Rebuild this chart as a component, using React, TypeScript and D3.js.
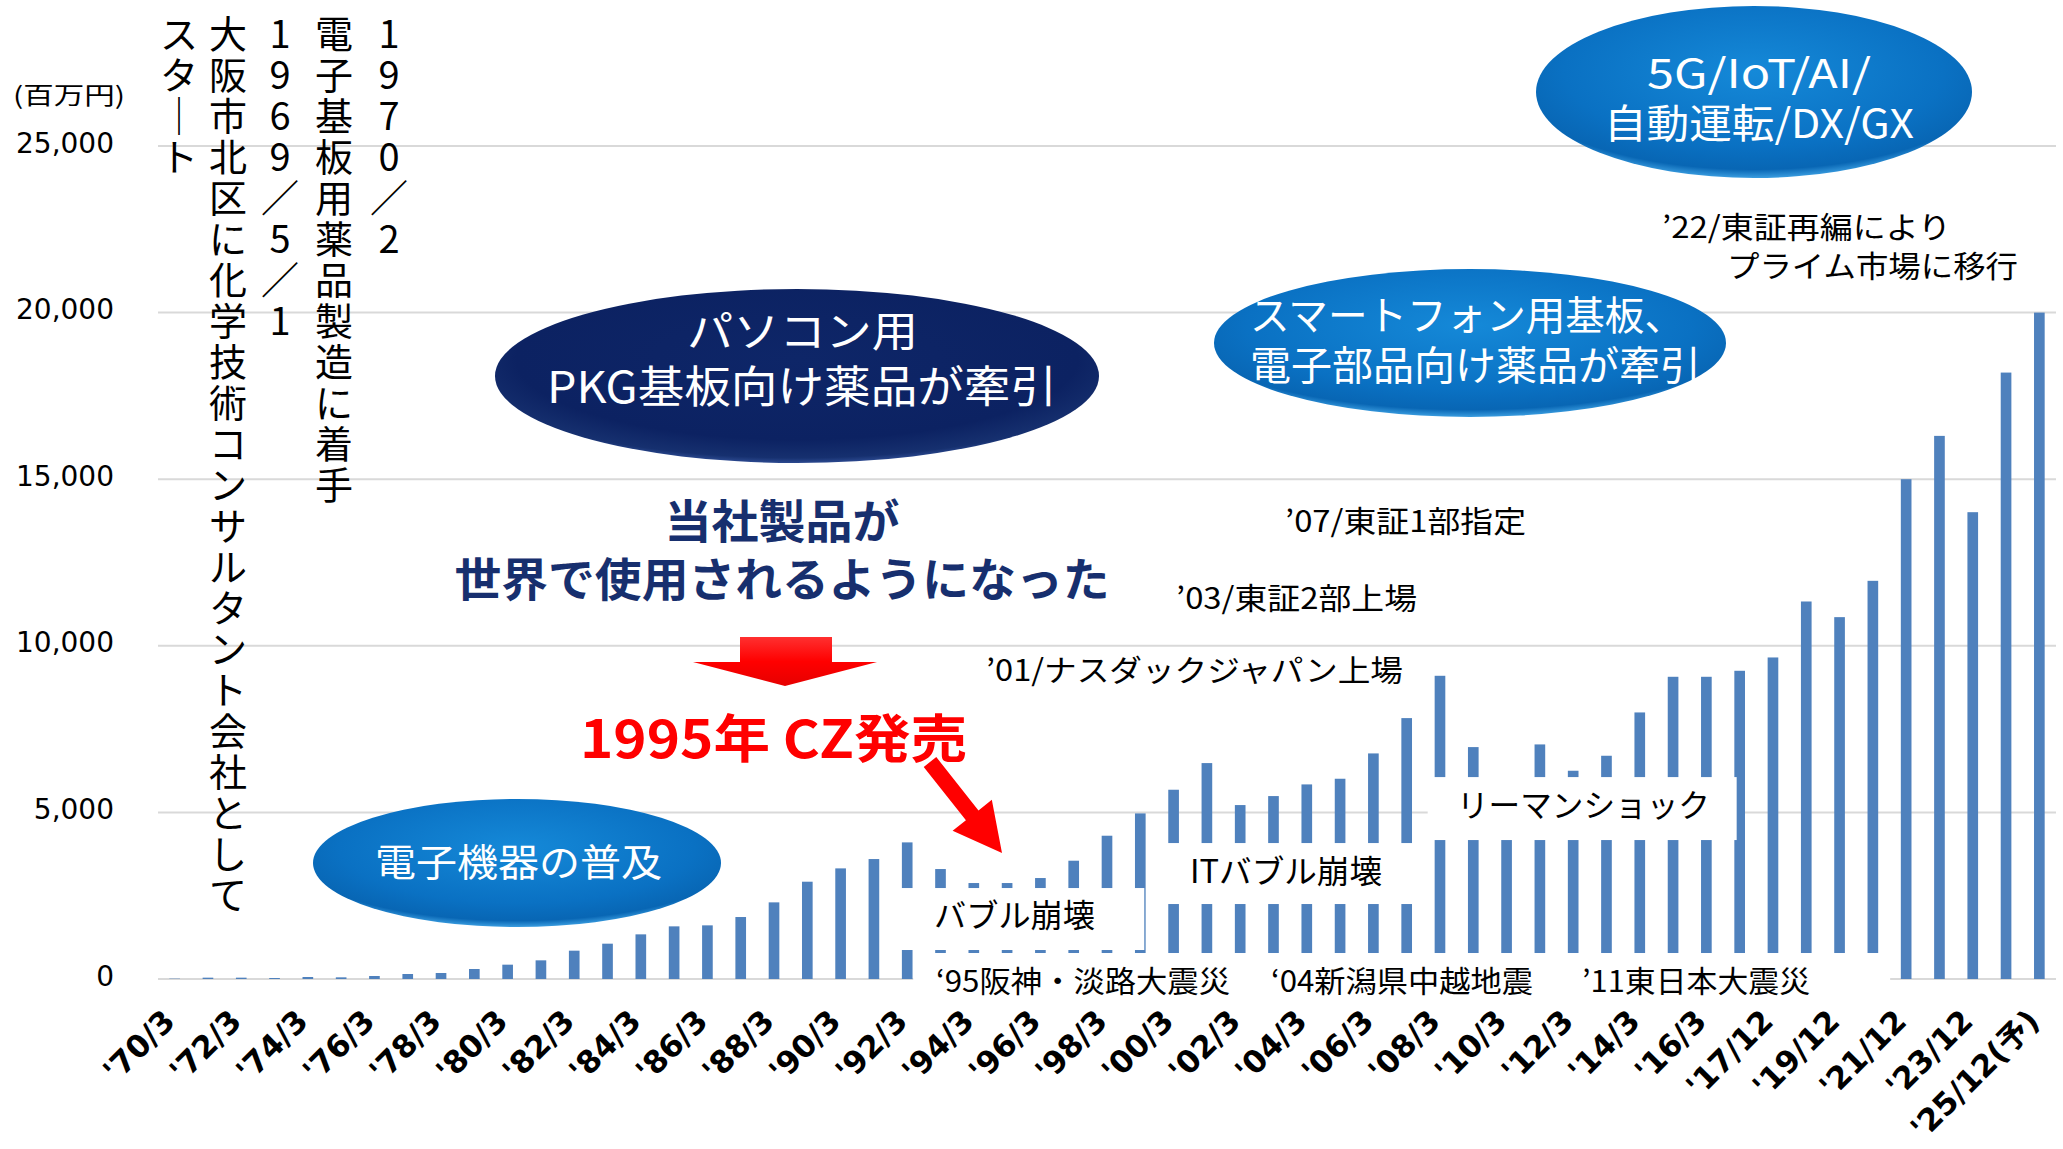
import * as d3 from 'd3';

// fiscal periods ('17 moved from March to December year end)
const categories = [
  "'70/3", "'71/3", "'72/3", "'73/3", "'74/3", "'75/3", "'76/3", "'77/3", "'78/3", "'79/3",
  "'80/3", "'81/3", "'82/3", "'83/3", "'84/3", "'85/3", "'86/3", "'87/3", "'88/3", "'89/3",
  "'90/3", "'91/3", "'92/3", "'93/3", "'94/3", "'95/3", "'96/3", "'97/3", "'98/3", "'99/3",
  "'00/3", "'01/3", "'02/3", "'03/3", "'04/3", "'05/3", "'06/3", "'07/3", "'08/3", "'09/3",
  "'10/3", "'11/3", "'12/3", "'13/3", "'14/3", "'15/3", "'16/3", "'17/3",
  "'17/12", "'18/12", "'19/12", "'20/12", "'21/12", "'22/12", "'23/12", "'24/12", "'25/12(予)",
];

// net sales, million yen
const sales = [
  10, 40, 40, 30, 60, 50, 90, 150, 180, 300,
  430, 560, 850, 1060, 1340, 1580, 1610, 1860, 2300, 2920,
  3320, 3600, 4100, 3300, 2880, 2880, 3030, 3550, 4300, 4970,
  5680, 6480, 5220, 5490, 5840, 6010, 6770, 7830, 9100, 6960,
  5200, 7040, 6250, 6700, 8000, 9070, 9070, 9250,
  9650, 11330, 10860, 11950, 15000, 16300, 14010, 18200, 20000,
];

const axisLabels = [
  "'70/3", "'72/3", "'74/3", "'76/3", "'78/3", "'80/3", "'82/3", "'84/3", "'86/3", "'88/3",
  "'90/3", "'92/3", "'94/3", "'96/3", "'98/3", "'00/3", "'02/3", "'04/3", "'06/3", "'08/3",
  "'10/3", "'12/3", "'14/3", "'16/3", "'17/12", "'19/12", "'21/12", "'23/12", "'25/12(予)",
];

const yTicks = [0, 5000, 10000, 15000, 20000, 25000];

const columns = [
  { text: 'スタ｜ト', x: 179 },
  { text: '大阪市北区に化学技術コンサルタント会社として', x: 228 },
  { text: '1969／5／1', x: 280 },
  { text: '電子基板用薬品製造に着手', x: 334 },
  { text: '1970／2', x: 389 },
];

const W = 2063;
const H = 1149;
const JP = "'Noto Sans CJK JP', sans-serif";
const LAT = "'DejaVu Sans', 'Noto Sans CJK JP', sans-serif";

const x = d3.scaleBand<string>()
  .domain(categories)
  .range([158, 2056])
  .paddingInner(0.68)
  .paddingOuter(0.34);
const y = d3.scaleLinear().domain([0, 25000]).range([979, 146]);
const fmt = d3.format(',');
const cx = (c: string) => (x(c) ?? 0) + x.bandwidth() / 2;

// block arrow from (sx,sy) to tip (tx,ty)
const arrow = (sx: number, sy: number, tx: number, ty: number, shaft: number, head: number, headLen: number) => {
  const dx = tx - sx, dy = ty - sy;
  const len = Math.hypot(dx, dy);
  const ux = dx / len, uy = dy / len;
  const nx = -uy, ny = ux;
  const bx = tx - ux * headLen, by = ty - uy * headLen;
  const pts = [
    [sx + nx * shaft, sy + ny * shaft],
    [bx + nx * shaft, by + ny * shaft],
    [bx + nx * head, by + ny * head],
    [tx, ty],
    [bx - nx * head, by - ny * head],
    [bx - nx * shaft, by - ny * shaft],
    [sx - nx * shaft, sy - ny * shaft],
  ];
  return pts.map(p => p.join(',')).join(' ');
};

const Label = ({ t, x0, y0, len, size = 30, fill = '#000', weight = 400, anchor = 'start' }:
  { t: string; x0: number; y0: number; len?: number; size?: number; fill?: string; weight?: number; anchor?: string }) => (
  <text x={x0} y={y0} fontSize={size} fill={fill} fontWeight={weight} fontFamily={JP}
    textAnchor={anchor} textLength={len} lengthAdjust="spacingAndGlyphs">{t}</text>
);

export default function App() {
  const left = x.range()[0];
  const right = x.range()[1];
  const bw = x.bandwidth();

  return (
    <svg width={W} height={H} viewBox={`0 0 ${W} ${H}`}
      style={{ position: 'absolute', left: 0, top: 0, background: '#fff' }}>
      <defs>
        <radialGradient id="blueG" cx="50%" cy="38%" r="62%">
          <stop offset="0%" stopColor="#1589d8" />
          <stop offset="70%" stopColor="#0a71c3" />
          <stop offset="92%" stopColor="#0866b4" />
          <stop offset="100%" stopColor="#3a9de0" />
        </radialGradient>
        <radialGradient id="navyG" cx="50%" cy="40%" r="62%">
          <stop offset="0%" stopColor="#0e2668" />
          <stop offset="75%" stopColor="#0c2262" />
          <stop offset="92%" stopColor="#16306f" />
          <stop offset="100%" stopColor="#3a5aa6" />
        </radialGradient>
        <linearGradient id="redG" x1="0" y1="0" x2="0" y2="1">
          <stop offset="0%" stopColor="#ff3030" />
          <stop offset="50%" stopColor="#ff0000" />
          <stop offset="100%" stopColor="#e60000" />
        </linearGradient>
      </defs>

      {/* grid */}
      {yTicks.map(t => (
        <line key={t} x1={left} x2={right} y1={y(t)} y2={y(t)} stroke="#d9d9d9" strokeWidth={2} />
      ))}
      {yTicks.map(t => (
        <text key={'l' + t} x={114} y={y(t) - 3} textAnchor="end" dominantBaseline="central"
          fontSize={28} fontFamily={LAT} fill="#000">{fmt(t)}</text>
      ))}
      <Label t="(百万円)" x0={13} y0={104} len={112} size={24} />

      {/* bars */}
      {categories.map((c, i) => (
        <rect key={c} x={x(c)} y={y(sales[i])} width={bw} height={y(0) - y(sales[i])} fill="#4f81bd" />
      ))}

      {/* white caption boxes over the bars */}
      <rect x={cx("'92/3") - 12} y={y(2730)} width={cx("'99/3") + 4 - cx("'92/3") + 12} height={y(870) - y(2730)} fill="#fff" />
      <rect x={cx("'99/3") + 6} y={y(4080)} width={cx("'07/3") + 6 - cx("'99/3") - 6} height={y(2250) - y(4080)} fill="#fff" />
      <rect x={cx("'07/3") + 21} y={y(6060)} width={cx("'17/3") - 3 - cx("'07/3") - 21} height={y(4170) - y(6060)} fill="#fff" />
      <rect x={cx("'92/3") + 6} y={y(780)} width={cx("'21/12") - 16 - cx("'92/3") - 6} height={50} fill="#fff" />

      <Label t="バブル崩壊" x0={934} y0={927} len={161} size={32} />
      <Label t="ITバブル崩壊" x0={1190} y0={883} len={192} size={32} />
      <Label t="リーマンショック" x0={1457} y0={817} len={253} size={32} />
      <Label t="‘95阪神・淡路大震災" x0={936} y0={992} len={294} size={30} />
      <Label t="‘04新潟県中越地震" x0={1271} y0={992} len={262} size={30} />
      <Label t="’11東日本大震災" x0={1582} y0={992} len={228} size={30} />

      <Label t="’01/ナスダックジャパン上場" x0={986} y0={681} len={417} size={30} />
      <Label t="’03/東証2部上場" x0={1176} y0={609} len={241} size={30} />
      <Label t="’07/東証1部指定" x0={1285} y0={532} len={241} size={30} />
      <Label t="’22/東証再編により" x0={1662} y0={238} len={289} size={30} />
      <Label t="プライム市場に移行" x0={1727} y0={277} len={291} size={30} />

      {/* vertical history notes, one glyph per line */}
      {columns.map(col => (
        <text key={col.x} textAnchor="middle" dominantBaseline="central" fontSize={38} fontFamily={JP} fill="#000">
          {Array.from(col.text).map((ch, k) => (
            <tspan key={k} x={col.x} y={31 + 41 * k}>{ch}</tspan>
          ))}
        </text>
      ))}

      {/* bubbles */}
      <ellipse cx={517} cy={863} rx={204} ry={64} fill="url(#blueG)" />
      <Label t="電子機器の普及" x0={375} y0={876} len={287} size={38} fill="#fff" />

      <ellipse cx={797} cy={376} rx={302} ry={87} fill="url(#navyG)" />
      <Label t="パソコン用" x0={687} y0={347} len={231} size={42} fill="#fff" />
      <Label t="PKG基板向け薬品が牽引" x0={547} y0={403} len={510} size={44} fill="#fff" />

      <ellipse cx={1470} cy={343} rx={256} ry={74} fill="url(#blueG)" />
      <Label t="スマートフォン用基板、" x0={1250} y0={330} len={434} size={40} fill="#fff" />
      <Label t="電子部品向け薬品が牽引" x0={1250} y0={380} len={451} size={40} fill="#fff" />

      <ellipse cx={1754} cy={92} rx={218} ry={86} fill="url(#blueG)" />
      <Label t="5G/IoT/AI/" x0={1647} y0={88} len={224} size={40} fill="#fff" />
      <Label t="自動運転/DX/GX" x0={1604} y0={138} len={310} size={40} fill="#fff" />

      {/* headline */}
      <Label t="当社製品が" x0={782} y0={538} len={235} size={46} fill="#172f6e" weight={700} anchor="middle" />
      <Label t="世界で使用されるようになった" x0={782} y0={596} len={655} size={46} fill="#172f6e" weight={700} anchor="middle" />

      <polygon points="740,637 832,637 832,662 877,662 785,686 693,662 740,662" fill="url(#redG)" />
      <Label t="1995年 CZ発売" x0={580} y0={758} len={387} size={52} fill="#ff0000" weight={700} />
      <polygon points={arrow(930, 762, 1002, 853, 8, 25, 48)} fill="#ff0000" />

      {/* category axis */}
      {axisLabels.map(c => (
        <text key={'x' + c} transform={`translate(${cx(c) + 2},1023) rotate(-45)`} textAnchor="end"
          fontSize={31} fontWeight={700} fontFamily={LAT} fill="#000">{c}</text>
      ))}
    </svg>
  );
}
